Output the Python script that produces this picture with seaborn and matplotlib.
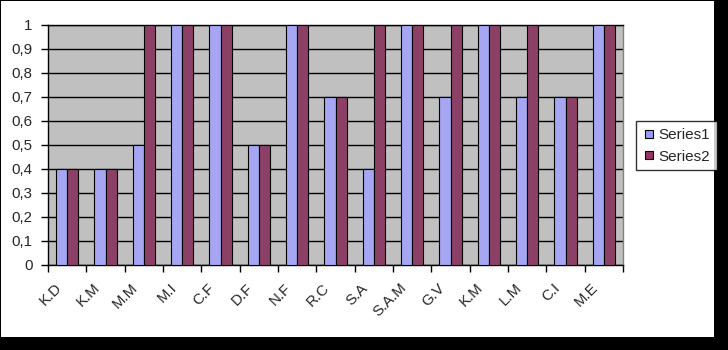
import numpy as np
import pandas as pd
import matplotlib
matplotlib.use("Agg")
import matplotlib.pyplot as plt
import matplotlib.transforms as mtransforms
from matplotlib.patches import Rectangle
from matplotlib.lines import Line2D
import seaborn as sns

categories = ["K.D", "K.M", "M.M", "M.I", "C.F", "D.F", "N.F", "R.C", "S.A",
              "S.A.M", "G.V", "K.M", "L.M", "C.I", "M.E"]
series1 = [0.4, 0.4, 0.5, 1, 1, 0.5, 1, 0.7, 0.4, 1, 0.7, 1, 0.7, 0.7, 1]
series2 = [0.4, 0.4, 1, 1, 1, 0.5, 1, 0.7, 1, 1, 1, 1, 1, 0.7, 1]
series_names = ["Series1", "Series2"]
yticks = [0, 0.1, 0.2, 0.3, 0.4, 0.5, 0.6, 0.7, 0.8, 0.9, 1]

sns.set_style("white")
plt.rcParams["font.family"] = ["Liberation Sans", "DejaVu Sans"]
plt.rcParams["font.size"] = 10

W, H = 728, 350
fig = plt.figure(figsize=(W / 100, H / 100), dpi=100, facecolor="black")
# white chart area with black shadow right/bottom
fig.patches.append(Rectangle((1 / W, 1 - 337 / H), 713 / W, 336 / H,
                             transform=fig.transFigure, facecolor="white",
                             edgecolor="none", zorder=-10))

L, R, T, B = 48, 623, 25, 265
ax = fig.add_axes([L / W, 1 - B / H, (R - L) / W, (B - T) / H])
ax.set_zorder(1)
ax.set_facecolor("#C0C0C0")

keys = [str(i) for i in range(len(categories))]
df = pd.DataFrame({
    "key": keys * 2,
    "value": series1 + series2,
    "series": [series_names[0]] * len(keys) + [series_names[1]] * len(keys),
})
colors = ["#9999FF", "#993366"]
sns.barplot(data=df, x="key", y="value", hue="series", order=keys,
            palette=colors, width=0.58, edgecolor="black", linewidth=0.8,
            ax=ax, legend=False, zorder=3)

ax.set_xlim(-0.5, len(keys) - 0.5)
ax.set_ylim(0, 1)
ax.set_xlabel("")
ax.set_ylabel("")

# y axis
ax.set_yticks(yticks)
ax.set_yticklabels([("%g" % v).replace(".", ",") for v in yticks])
ax.yaxis.grid(True, color="black", linewidth=1, zorder=1)
ax.set_axisbelow(True)
ax.tick_params(axis="y", length=5, width=1, color="black", pad=6,
               labelsize=10.8, left=True)

# x axis: ticks at boundaries, labels at centers
ax.set_xticks(np.arange(-0.5, len(keys), 1.0))
ax.set_xticklabels([])
ax.tick_params(axis="x", which="major", length=5, width=1, color="black",
               bottom=True, direction="out")
ax.set_xticks(np.arange(len(keys)), minor=True)
ax.set_xticklabels(categories, minor=True, rotation=45, ha="right",
                   va="center", rotation_mode="anchor", fontsize=10.8)
ax.tick_params(axis="x", which="minor", length=0, pad=15)
offset = mtransforms.ScaledTranslation(-8 / 100, 0, fig.dpi_scale_trans)
for lab in ax.get_xticklabels(minor=True):
    lab.set_transform(lab.get_transform() + offset)

for side in ["left", "bottom", "top"]:
    ax.spines[side].set_color("black")
    ax.spines[side].set_linewidth(1)
ax.spines["right"].set_color("#808080")
ax.spines["right"].set_linewidth(1)

# legend
handles = [Line2D([], [], marker="s", linestyle="none", markersize=6,
                  markerfacecolor=c, markeredgecolor="black",
                  markeredgewidth=0.8) for c in colors]
leg = fig.legend(handles, series_names, loc="upper left",
                 bbox_to_anchor=(636 / W, 1 - 121 / H), frameon=True,
                 fancybox=False, fontsize=11, handlelength=0.8,
                 handletextpad=0.2, borderpad=0.45, labelspacing=0.5,
                 borderaxespad=0)
leg.get_frame().set_edgecolor("black")
leg.get_frame().set_linewidth(1)
leg.get_frame().set_facecolor("white")

fig.savefig("out.png", dpi=100, facecolor=fig.get_facecolor())
